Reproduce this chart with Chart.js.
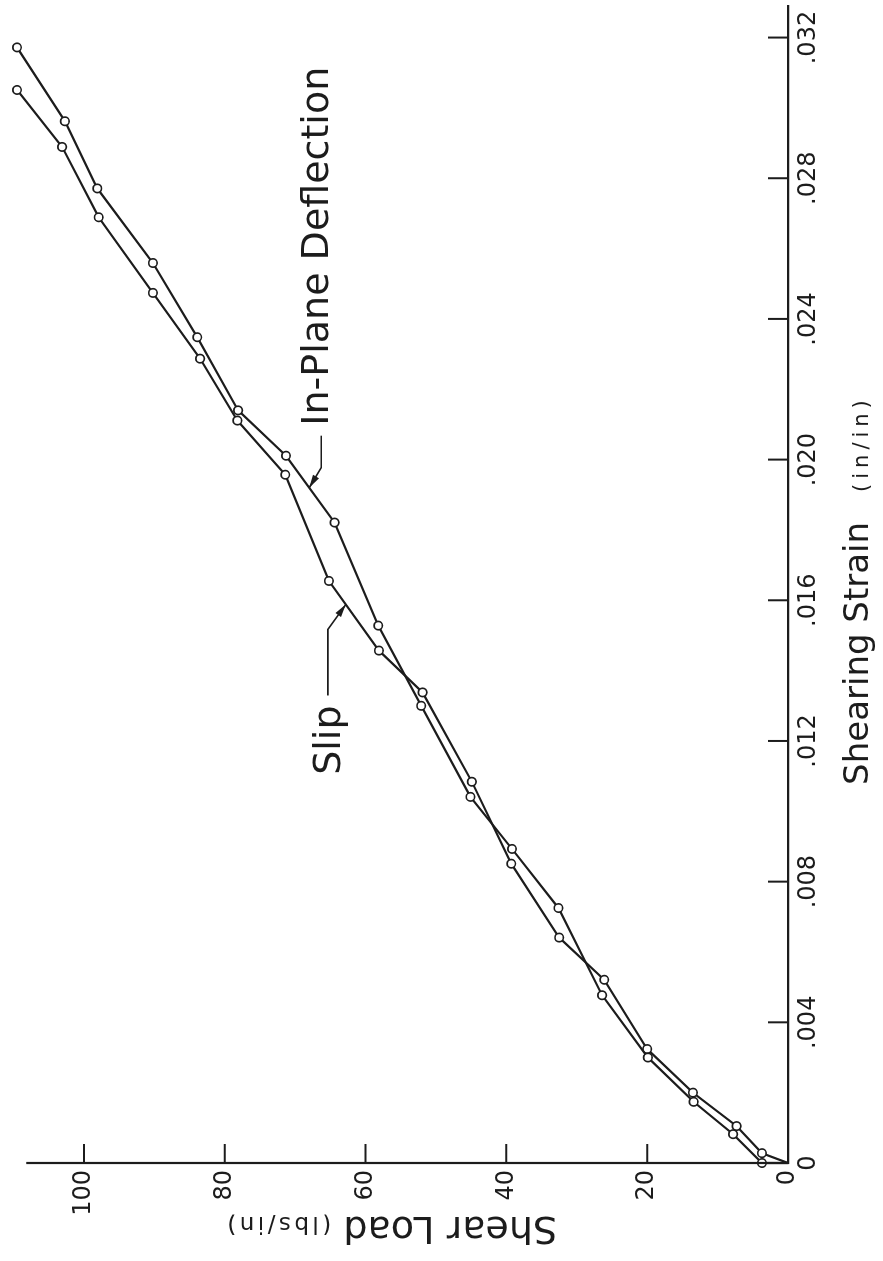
<!DOCTYPE html>
<html>
<head>
<meta charset="utf-8">
<title>Shear Load vs Shearing Strain</title>
<script src="https://cdn.jsdelivr.net/npm/chart.js@4.4.1/dist/chart.umd.min.js"></script>
<style>
    html, body { margin: 0; padding: 0; background: #fff; overflow: hidden; }
    /* the figure is printed sideways, so the whole chart is turned a quarter left */
    #wrap {
        position: absolute; left: 0; top: 0;
        width: 1261px; height: 883px;
        transform-origin: 0 0;
        transform: translate(0, 1261px) rotate(-90deg);
    }
</style>
</head>
<body>
<div id="wrap"><canvas id="myChart" width="1261" height="883"></canvas></div>
<script>
// Measured points: shear load (lbs/in) and shearing strain (in/in)
const loadInPlane = [0, 3.7, 7.8, 13.4, 19.9, 26.4, 32.6, 39.2, 45.1, 52.1, 58.2, 64.4, 71.3, 78.1, 83.9, 90.2, 98.1, 102.7, 109.5];
const strainInPlane = [0, 0.00000, 0.00082, 0.00174, 0.00300, 0.00477, 0.00725, 0.00893, 0.01041, 0.01300, 0.01528, 0.01821, 0.02011, 0.02140, 0.02348, 0.02559, 0.02771, 0.02962, 0.03172];

const loadSlip = [0, 3.7, 7.3, 13.5, 20.0, 26.1, 32.5, 39.3, 44.9, 51.9, 58.1, 65.2, 71.4, 78.2, 83.5, 90.2, 97.9, 103.1, 109.5];
const strainSlip = [0, 0.00028, 0.00105, 0.00200, 0.00324, 0.00521, 0.00641, 0.00851, 0.01084, 0.01338, 0.01457, 0.01655, 0.01957, 0.02111, 0.02287, 0.02474, 0.02689, 0.02889, 0.03051];

// Axis ticks
const strainTicks = [0, 0.004, 0.008, 0.012, 0.016, 0.020, 0.024, 0.028, 0.032];
const strainTickLabels = ['0', '.004', '.008', '.012', '.016', '.020', '.024', '.028', '.032'];
const loadTicks = [0, 20, 40, 60, 80, 100];
const loadTickLabels = ['0', '20', '40', '60', '80', '100'];

// The drawn load axis stops a little short of the last points
const loadAxisEnd = 108.2;

// Where the label arrows touch the curves (load, lbs/in)
const inPlaneArrowLoad = 68;
const slipArrowLoad = 62.8;

const ink = '#1c1c1c';
const fontFamily = '"DejaVu Sans", sans-serif';

let myChart;

function toPoints(loads, strains) {
    return loads.map((l, i) => ({ x: strains[i], y: l }));
}

function strainAtLoad(loads, strains, load) {
    for (let i = 1; i < loads.length; i++) {
        if (load <= loads[i]) {
            const t = (load - loads[i - 1]) / (loads[i] - loads[i - 1]);
            return strains[i - 1] + t * (strains[i] - strains[i - 1]);
        }
    }
    return strains[strains.length - 1];
}

function arrowHead(ctx, from, tip) {
    const a = Math.atan2(tip.y - from.y, tip.x - from.x);
    const len = 13, w = 3.5;
    ctx.beginPath();
    ctx.moveTo(tip.x, tip.y);
    ctx.lineTo(tip.x - len * Math.cos(a) + w * Math.sin(a), tip.y - len * Math.sin(a) - w * Math.cos(a));
    ctx.lineTo(tip.x - len * Math.cos(a) - w * Math.sin(a), tip.y - len * Math.sin(a) + w * Math.cos(a));
    ctx.closePath();
    ctx.fill();
}

// Load axis line, inner tick marks, curve labels and axis titles
const paperPlugin = {
    id: 'paper',
    afterDraw(chart) {
        const ctx = chart.ctx;
        const xs = chart.scales.x;
        const ys = chart.scales.y;
        const area = chart.chartArea;
        ctx.save();
        ctx.strokeStyle = ink;
        ctx.fillStyle = ink;

        // load axis line
        ctx.lineWidth = 2.2;
        ctx.beginPath();
        ctx.moveTo(area.left, ys.getPixelForValue(0) + 1);
        ctx.lineTo(area.left, ys.getPixelForValue(loadAxisEnd));
        ctx.stroke();

        // tick marks point into the plot
        ctx.lineWidth = 2;
        ctx.beginPath();
        strainTicks.forEach(v => {
            if (v === 0) return;
            const px = xs.getPixelForValue(v);
            ctx.moveTo(px, area.bottom);
            ctx.lineTo(px, area.bottom - 20);
        });
        loadTicks.forEach(v => {
            if (v === 0) return;
            const py = ys.getPixelForValue(v);
            ctx.moveTo(area.left, py);
            ctx.lineTo(area.left + 19, py);
        });
        ctx.stroke();

        // In-Plane Deflection label
        ctx.lineWidth = 1.6;
        let tip = {
            x: xs.getPixelForValue(strainAtLoad(loadInPlane, strainInPlane, inPlaneArrowLoad)),
            y: ys.getPixelForValue(inPlaneArrowLoad)
        };
        let elbow = { x: tip.x + 20, y: tip.y + 12 };
        ctx.beginPath();
        ctx.moveTo(tip.x + 52, elbow.y);
        ctx.lineTo(elbow.x, elbow.y);
        ctx.lineTo(tip.x, tip.y);
        ctx.stroke();
        arrowHead(ctx, elbow, tip);
        ctx.font = '38px ' + fontFamily;
        ctx.textAlign = 'left';
        ctx.textBaseline = 'alphabetic';
        ctx.fillText('In-Plane Deflection', tip.x + 62, tip.y + 19);

        // Slip label
        tip = {
            x: xs.getPixelForValue(strainAtLoad(loadSlip, strainSlip, slipArrowLoad)),
            y: ys.getPixelForValue(slipArrowLoad)
        };
        elbow = { x: tip.x - 25, y: tip.y - 18 };
        ctx.beginPath();
        ctx.moveTo(tip.x - 91, elbow.y);
        ctx.lineTo(elbow.x, elbow.y);
        ctx.lineTo(tip.x, tip.y);
        ctx.stroke();
        arrowHead(ctx, elbow, tip);
        ctx.textAlign = 'right';
        ctx.fillText('Slip', tip.x - 101, tip.y - 6);

        // x axis title
        ctx.textAlign = 'left';
        let x0 = xs.getPixelForValue(0.01075);
        const xBase = area.bottom + 80;
        ctx.font = '34px ' + fontFamily;
        ctx.fillText('Shearing Strain', x0, xBase);
        x0 += ctx.measureText('Shearing Strain').width + 30;
        ctx.font = '21px ' + fontFamily;
        ctx.letterSpacing = '5px';
        ctx.fillText('(in/in)', x0, xBase);
        ctx.letterSpacing = '0px';

        // y axis title, read from bottom to top
        ctx.save();
        ctx.translate(area.left - 54, ys.getPixelForValue(32.8));
        ctx.rotate(-Math.PI / 2);
        ctx.font = '38px ' + fontFamily;
        ctx.fillText('Shear Load', 0, 0);
        const w = ctx.measureText('Shear Load').width + 12;
        ctx.font = '23px ' + fontFamily;
        ctx.letterSpacing = '3.5px';
        ctx.fillText('(lbs/in)', w, 0);
        ctx.letterSpacing = '0px';
        ctx.restore();

        ctx.restore();
    }
};

function initChart() {
    const ctx = document.getElementById('myChart').getContext('2d');
    const lineStyle = {
        showLine: true,
        borderColor: ink,
        borderWidth: 2.2,
        // the start of each curve at the origin has no circle
        pointRadius: c => (c.dataIndex === 0 ? 0 : 4.2),
        pointBorderWidth: 1.7,
        pointBorderColor: ink,
        pointBackgroundColor: '#ffffff',
        tension: 0,
        clip: false
    };
    myChart = new Chart(ctx, {
        type: 'scatter',
        data: {
            datasets: [
                Object.assign({ label: 'In-Plane Deflection', data: toPoints(loadInPlane, strainInPlane) }, lineStyle),
                Object.assign({ label: 'Slip', data: toPoints(loadSlip, strainSlip) }, lineStyle)
            ]
        },
        options: {
            responsive: false,
            animation: false,
            events: [],
            layout: { padding: { top: 10, right: 5, left: 0, bottom: 0 } },
            plugins: {
                legend: { display: false },
                tooltip: { enabled: false }
            },
            scales: {
                x: {
                    type: 'linear',
                    min: 0,
                    max: 0.0329,
                    afterFit: axis => { axis.height = 95; },
                    afterBuildTicks: axis => { axis.ticks = strainTicks.map(v => ({ value: v })); },
                    grid: { display: true, drawOnChartArea: false, drawTicks: false },
                    border: { display: true, color: ink, width: 2.2 },
                    ticks: {
                        autoSkip: false,
                        maxRotation: 0,
                        padding: 6,
                        color: ink,
                        font: { family: fontFamily, size: 24 },
                        callback: (value, index) => strainTickLabels[index]
                    }
                },
                y: {
                    type: 'linear',
                    min: 0,
                    max: 110.5,
                    afterFit: axis => {
                        axis.width = 98;
                        axis.paddingTop = 0;
                        axis.paddingBottom = 0;
                    },
                    afterBuildTicks: axis => { axis.ticks = loadTicks.map(v => ({ value: v })); },
                    grid: { display: true, drawOnChartArea: false, drawTicks: false },
                    border: { display: false },
                    ticks: {
                        autoSkip: false,
                        padding: 7,
                        color: ink,
                        font: { family: fontFamily, size: 24 },
                        callback: (value, index) => loadTickLabels[index]
                    }
                }
            }
        },
        plugins: [paperPlugin]
    });
}

document.addEventListener('DOMContentLoaded', () => {
    initChart();
});
</script>
</body>
</html>
